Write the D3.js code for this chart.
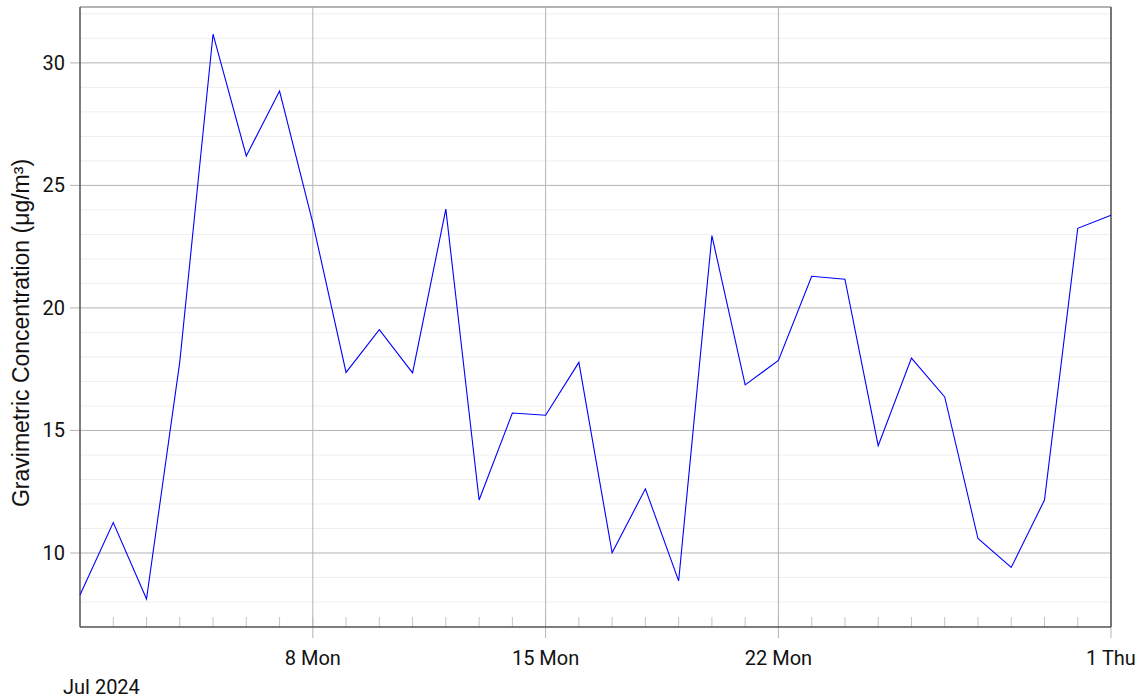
<!DOCTYPE html>
<html>
<head>
<meta charset="utf-8">
<script src="https://cdn.jsdelivr.net/npm/d3@7"></script>
<style>
  body { margin: 0; background: #fff; }
  svg text { font-family: Roboto, "Liberation Sans", sans-serif; fill: #111; }
</style>
</head>
<body>
<svg id="chart" width="1145" height="700"></svg>
<script>
// daily gravimetric concentration, Jul 1 .. Aug 1 2024
const dates = ['2024-07-01','2024-07-02','2024-07-03','2024-07-04','2024-07-05','2024-07-06','2024-07-07','2024-07-08',
  '2024-07-09','2024-07-10','2024-07-11','2024-07-12','2024-07-13','2024-07-14','2024-07-15','2024-07-16',
  '2024-07-17','2024-07-18','2024-07-19','2024-07-20','2024-07-21','2024-07-22','2024-07-23','2024-07-24',
  '2024-07-25','2024-07-26','2024-07-27','2024-07-28','2024-07-29','2024-07-30','2024-07-31','2024-08-01'];
const values = [8.29, 11.24, 8.12, 17.8, 31.17, 26.2, 28.85, 23.47,
  17.37, 19.11, 17.35, 24.03, 12.16, 15.71, 15.62, 17.78,
  10.01, 12.62, 8.86, 22.95, 16.86, 17.86, 21.29, 21.17,
  14.38, 17.95, 16.37, 10.59, 9.41, 12.16, 23.25, 23.78];
const yTicks = [10, 15, 20, 25, 30];
const majorDates = ['2024-07-08','2024-07-15','2024-07-22','2024-08-01'];
const majorLabels = ['8 Mon','15 Mon','22 Mon','1 Thu'];
const yTitle = 'Gravimetric Concentration (μg/m³)';
const monthLabel = 'Jul 2024';

const parse = d3.utcParse('%Y-%m-%d');
let data = dates.map((d, i) => ({date: parse(d), value: values[i]}));

let svg = d3.select('#chart');
let pLeft = 80, pRight = 1111, pTop = 7, pBottom = 627;

let x = d3.scaleUtc().domain([parse(dates[0]), parse(dates[dates.length - 1])]).range([pLeft, pRight]);
let y = d3.scaleLinear().domain([6.98, 32.28]).range([pBottom, pTop]);

// minor horizontal grid (every unit)
let minor = d3.range(7, 33).filter(v => v % 5 != 0);
svg.append('g').selectAll('line').data(minor).enter().append('line')
  .attr('x1', pLeft).attr('x2', pRight)
  .attr('y1', d => y(d)).attr('y2', d => y(d))
  .attr('stroke', '#eeeeee').attr('stroke-width', 1);

// major horizontal grid
svg.append('g').selectAll('line').data(yTicks).enter().append('line')
  .attr('x1', pLeft - 10).attr('x2', pRight)
  .attr('y1', d => y(d)).attr('y2', d => y(d))
  .attr('stroke', '#b4b4b4').attr('stroke-width', 1);

// daily minor ticks on the bottom axis
svg.append('g').selectAll('line').data(data.slice(1, -1)).enter().append('line')
  .attr('x1', d => x(d.date)).attr('x2', d => x(d.date))
  .attr('y1', pBottom - 10).attr('y2', pBottom)
  .attr('stroke', '#c4c4c4');

// weekly/month vertical grid + ticks
let majors = majorDates.map(parse);
svg.append('g').selectAll('line').data(majors).enter().append('line')
  .attr('x1', d => x(d)).attr('x2', d => x(d))
  .attr('y1', pTop).attr('y2', pBottom + 11)
  .attr('stroke', '#b4b4b4');

// frame
svg.append('line').attr('x1', pLeft).attr('x2', pRight).attr('y1', pTop).attr('y2', pTop)
  .attr('stroke', '#9a9a9a').attr('stroke-width', 1.5);
svg.append('line').attr('x1', pRight).attr('x2', pRight).attr('y1', pTop).attr('y2', pBottom)
  .attr('stroke', '#555').attr('stroke-width', 1.5);
svg.append('line').attr('x1', pLeft).attr('x2', pLeft).attr('y1', pTop).attr('y2', pBottom)
  .attr('stroke', '#555').attr('stroke-width', 1.5);
svg.append('line').attr('x1', pLeft).attr('x2', pRight).attr('y1', pBottom).attr('y2', pBottom)
  .attr('stroke', '#555').attr('stroke-width', 1.5);

// y tick labels
svg.append('g').selectAll('text').data(yTicks).enter().append('text')
  .attr('x', 65).attr('y', d => y(d))
  .attr('text-anchor', 'end').attr('dominant-baseline', 'central')
  .style('font-size', '20px')
  .text(d => d);

// x tick labels
svg.append('g').selectAll('text').data(majors).enter().append('text')
  .attr('x', d => x(d)).attr('y', 665)
  .attr('text-anchor', 'middle')
  .style('font-size', '20px')
  .text((d, i) => majorLabels[i]);

svg.append('text').attr('x', 63).attr('y', 694)
  .style('font-size', '20px').text(monthLabel);

// y axis title
svg.append('text')
  .attr('transform', 'translate(29,333) rotate(-90)')
  .attr('text-anchor', 'middle')
  .style('font-family', '"Liberation Sans", Arial, sans-serif')
  .style('font-size', '23px')
  .text(yTitle);

// series
let line = d3.line().x(d => x(d.date)).y(d => y(d.value));
svg.append('path').datum(data)
  .attr('d', line)
  .attr('fill', 'none')
  .attr('stroke', '#0000ff')
  .attr('stroke-width', 1.1);
</script>
</body>
</html>
